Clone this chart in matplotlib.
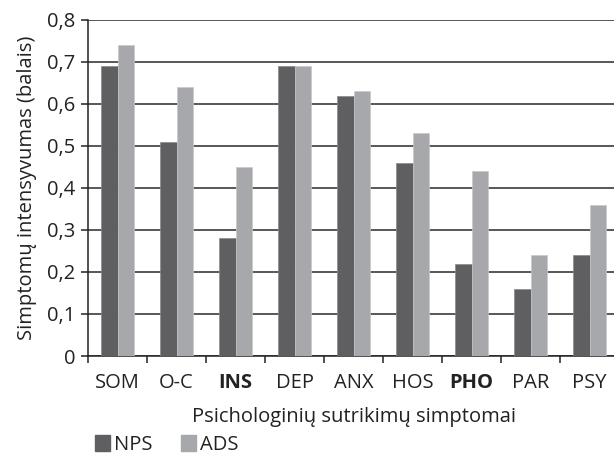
import matplotlib
matplotlib.use("Agg")
import matplotlib.pyplot as plt
from matplotlib.ticker import FuncFormatter, MultipleLocator
from matplotlib.patches import Patch
import numpy as np

categories = ["SOM", "O-C", "INS", "DEP", "ANX", "HOS", "PHO", "PAR", "PSY"]
bold_labels = ["INS", "PHO"]
nps = [0.69, 0.51, 0.28, 0.69, 0.62, 0.46, 0.22, 0.16, 0.24]
ads = [0.74, 0.64, 0.45, 0.69, 0.63, 0.53, 0.44, 0.24, 0.36]

dark = "#5f5f61"
light = "#a7a8ab"
txt = "#222222"
fs = 14.5

plt.rcParams['font.family'] = ['Open Sans', 'DejaVu Sans']
plt.rcParams['font.size'] = fs

fig = plt.figure(figsize=(6.14, 4.63), dpi=100)
ax = fig.add_axes([88 / 614, 107 / 463, 531 / 614, 336 / 463])

x = np.arange(len(categories))
w = 0.28
ax.bar(x - w / 2, nps, w, color=dark, edgecolor="#8a8a8c", linewidth=0.5, zorder=3)
ax.bar(x + w / 2, ads, w, color=light, edgecolor="#c8c8ca", linewidth=0.5, zorder=3)

ax.set_xlim(-0.5, len(categories) - 0.5)
ax.set_ylim(0, 0.8)
ax.yaxis.set_major_locator(MultipleLocator(0.1))
ax.yaxis.set_major_formatter(FuncFormatter(
    lambda v, p: "0" if abs(v) < 1e-9 else f"{v:.1f}".replace(".", ",")))
ax.yaxis.grid(True, color="#2a2a2a", linewidth=1.1, zorder=0)

# category ticks between groups, labels centred
ax.set_xticks(np.arange(len(categories) + 1) - 0.5)
ax.set_xticklabels([])
ax.set_xticks(x, minor=True)
ax.set_xticklabels(categories, minor=True)
ax.tick_params(axis="x", which="minor", length=0, pad=12, labelsize=fs, colors=txt)
ax.tick_params(axis="x", which="major", length=5, width=1.1, color=txt)
ax.tick_params(axis="y", length=5, width=1.1, pad=4, labelsize=fs, color=txt,
               labelcolor=txt)
for lab in ax.get_xticklabels(minor=True):
    if lab.get_text() in bold_labels:
        lab.set_fontweight("bold")

for s in ["top", "right"]:
    ax.spines[s].set_visible(False)
for s in ["left", "bottom"]:
    ax.spines[s].set_linewidth(1.1)
    ax.spines[s].set_color(txt)

ax.set_ylabel("Simptomų intensyvumas (balais)", fontsize=fs, color=txt, labelpad=7)
ax.set_xlabel("Psichologinių sutrikimų simptomai", fontsize=fs, color=txt, labelpad=10)

handles = [Patch(color=dark, label="NPS"), Patch(color=light, label="ADS")]
fig.legend(handles=handles, loc="lower left", bbox_to_anchor=(0.125, -0.022), ncol=2,
           frameon=False, handlelength=0.75, handleheight=0.85, handletextpad=0.2,
           columnspacing=1.4, fontsize=fs, labelcolor=txt)

fig.savefig("out.png", dpi=100)
